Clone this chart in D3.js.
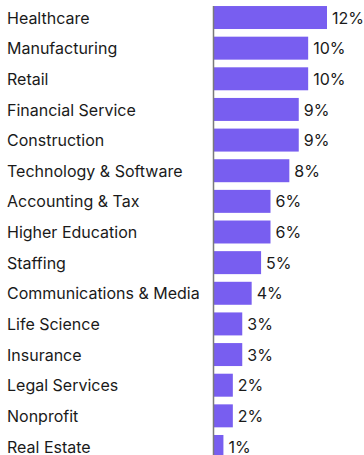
<!DOCTYPE html>
<html>
<head>
<meta charset="utf-8">
<script src="https://cdn.jsdelivr.net/npm/d3@7"></script>
<style>
  html, body { margin: 0; padding: 0; background: #fff; }
  svg { display: block; }
</style>
</head>
<body>
<div id="chart"></div>
<script>
// Industry share, sorted descending
const industries = [
  "Healthcare", "Manufacturing", "Retail", "Financial Service", "Construction",
  "Technology & Software", "Accounting & Tax", "Higher Education", "Staffing",
  "Communications & Media", "Life Science", "Insurance", "Legal Services",
  "Nonprofit", "Real Estate"
];
const shares = [12, 10, 10, 9, 9, 8, 6, 6, 5, 4, 3, 3, 2, 2, 1];

const width = 364, height = 455;
const axisX = 214;
const font = "Inter, 'Liberation Sans', Arial, sans-serif";

const svg = d3.select("#chart").append("svg")
  .attr("width", width).attr("height", height);

const y = d3.scaleBand()
  .domain(industries)
  .range([2.2, 2.2 + 30.64 * industries.length])
  .paddingInner(0.25)
  .paddingOuter(0.125);

const x = d3.scaleLinear()
  .domain([0, 12])
  .range([axisX, axisX + 113]);

const data = industries.map((name, i) => ({ name, value: shares[i] }));

svg.append("g").selectAll("rect")
  .data(data).join("rect")
  .attr("x", x(0))
  .attr("y", d => y(d.name))
  .attr("width", d => x(d.value) - x(0))
  .attr("height", y.bandwidth())
  .attr("fill", "#785EF0");

svg.append("line")
  .attr("x1", axisX - 0.5).attr("x2", axisX - 0.5)
  .attr("y1", y(industries[0])).attr("y2", height)
  .attr("stroke", "#7a7a7a").attr("stroke-width", 1.5);

svg.append("g").selectAll("text")
  .data(data).join("text")
  .attr("x", 7)
  .attr("y", d => y(d.name) + y.bandwidth() / 2)
  .attr("dy", "0.38em")
  .attr("font-family", font).attr("font-size", 16)
  .attr("fill", "#1a1a1a")
  .text(d => d.name);

svg.append("g").selectAll("text")
  .data(data).join("text")
  .attr("x", d => x(d.value) + 5)
  .attr("y", d => y(d.name) + y.bandwidth() / 2)
  .attr("dy", "0.38em")
  .attr("font-family", font).attr("font-size", 16)
  .attr("fill", "#1a1a1a")
  .text(d => d.value + "%");
</script>
</body>
</html>
